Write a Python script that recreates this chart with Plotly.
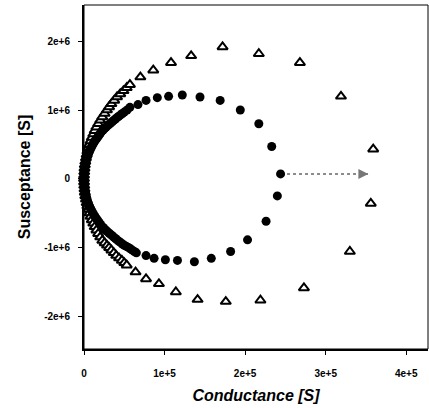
import plotly.graph_objects as go

# Circles (filled) - upper and lower branches
G_circ = [0, 150, 400, 750, 1200, 1700, 2200, 2800, 3500, 4200, 5000, 5900, 6800, 7800, 8800, 9900,
          11000, 12200, 13500, 14700, 16000, 17500, 19000, 20500, 22000, 23700, 25500, 27200,
          29000, 31000, 33000, 35000, 37000, 39000, 41000, 43200, 45500, 47700, 50000, 53500,
          57000, 67000, 77000, 91000, 105000, 122000, 144000, 169000, 194000, 217000, 233000, 244000]
B_circ = [0, 0.06e6, 0.10e6, 0.14e6, 0.17e6, 0.20e6, 0.23e6, 0.26e6, 0.29e6, 0.32e6, 0.35e6, 0.375e6,
          0.40e6, 0.425e6, 0.45e6, 0.475e6, 0.50e6, 0.525e6, 0.55e6, 0.57e6, 0.59e6, 0.615e6, 0.64e6,
          0.665e6, 0.69e6, 0.71e6, 0.73e6, 0.75e6, 0.77e6, 0.79e6, 0.81e6, 0.83e6, 0.85e6, 0.87e6,
          0.89e6, 0.91e6, 0.93e6, 0.95e6, 0.97e6, 1.00e6, 1.04e6, 1.08e6, 1.14e6, 1.18e6, 1.20e6,
          1.22e6, 1.19e6, 1.14e6, 1.00e6, 0.80e6, 0.47e6, 0.07e6]
G_circ_low = [150, 400, 750, 1200, 1700, 2200, 2800, 3500, 4200, 5000, 5900, 6800, 7800, 8800, 9900,
              11000, 12200, 13500, 14700, 16000, 17500, 19000, 20500, 22000, 23700, 25500, 27200,
              29000, 31000, 33000, 35000, 37000, 39000, 41000, 43200, 45500, 47700, 50000, 52500,
              55000, 57500, 60000, 62500, 65000, 77000, 87000, 101000, 116000, 137000, 158000,
              182000, 203000, 226000, 240000]
B_circ_low = [-0.06e6, -0.10e6, -0.14e6, -0.17e6, -0.20e6, -0.23e6, -0.26e6, -0.29e6, -0.32e6,
              -0.35e6, -0.375e6, -0.40e6, -0.425e6, -0.45e6, -0.475e6, -0.50e6, -0.525e6, -0.55e6,
              -0.57e6, -0.59e6, -0.615e6, -0.64e6, -0.665e6, -0.69e6, -0.71e6, -0.73e6, -0.75e6,
              -0.77e6, -0.79e6, -0.81e6, -0.83e6, -0.85e6, -0.87e6, -0.89e6, -0.91e6, -0.93e6,
              -0.95e6, -0.97e6, -0.985e6, -1.00e6, -1.02e6, -1.04e6, -1.06e6, -1.08e6, -1.12e6,
              -1.16e6, -1.18e6, -1.19e6, -1.21e6, -1.16e6, -1.06e6, -0.89e6, -0.62e6, -0.25e6]

# Triangles (open) - upper and lower branches
G_tri = [0, 100, 300, 600, 1000, 1600, 2400, 3300, 4200, 5400, 6700, 8200, 9700, 11500, 13300,
         15400, 17600, 20100, 22700, 25600, 28500, 31200, 34000, 37500, 41000, 45000, 49000,
         53000, 57000, 70000, 86000, 108000, 133000, 172000, 217000, 268000, 319000, 359000]
B_tri = [0, 0.05e6, 0.1e6, 0.15e6, 0.2e6, 0.25e6, 0.3e6, 0.35e6, 0.4e6, 0.45e6, 0.5e6, 0.55e6,
         0.6e6, 0.65e6, 0.7e6, 0.75e6, 0.8e6, 0.85e6, 0.9e6, 0.95e6, 1.0e6, 1.045e6, 1.09e6,
         1.14e6, 1.19e6, 1.235e6, 1.28e6, 1.325e6, 1.37e6, 1.48e6, 1.58e6, 1.69e6, 1.79e6,
         1.92e6, 1.82e6, 1.69e6, 1.20e6, 0.43e6]
G_tri_low = [100, 300, 600, 1000, 1600, 2400, 3300, 4200, 5400, 6700, 8200, 9700, 11500, 13300,
             15400, 17600, 20100, 22700, 25600, 28500, 31200, 34000, 37000, 40000, 43500, 47000,
             50000, 53000, 64000, 77000, 93000, 114000, 141000, 176000, 219000, 273000, 330000, 356000]
B_tri_low = [-0.05e6, -0.1e6, -0.15e6, -0.2e6, -0.25e6, -0.3e6, -0.35e6, -0.4e6, -0.45e6, -0.5e6,
             -0.55e6, -0.6e6, -0.65e6, -0.7e6, -0.75e6, -0.8e6, -0.85e6, -0.9e6, -0.935e6, -0.97e6,
             -1.005e6, -1.04e6, -1.08e6, -1.12e6, -1.155e6, -1.19e6, -1.225e6, -1.26e6, -1.36e6,
             -1.46e6, -1.53e6, -1.65e6, -1.76e6, -1.79e6, -1.77e6, -1.59e6, -1.06e6, -0.36e6]

# Dotted arrow
arrow_G = [252000, 353000]
arrow_B = [0.07e6, 0.07e6]

x_ticks = [0, 1e5, 2e5, 3e5, 4e5]
x_ticklabels = ["0", "1e+5", "2e+5", "3e+5", "4e+5"]
y_ticks = [-2e6, -1e6, 0, 1e6, 2e6]
y_ticklabels = ["-2e+6", "-1e+6", "0", "1e+6", "2e+6"]

fig = go.Figure()

tri_marker = dict(symbol="triangle-up", size=9, color="white", line=dict(color="black", width=2))
circ_marker = dict(symbol="circle", size=9, color="black", line=dict(width=0))

fig.add_trace(go.Scatter(x=G_tri, y=B_tri, mode="markers", marker=tri_marker, cliponaxis=False))
fig.add_trace(go.Scatter(x=G_tri_low, y=B_tri_low, mode="markers", marker=tri_marker, cliponaxis=False))
fig.add_trace(go.Scatter(x=G_circ, y=B_circ, mode="markers", marker=circ_marker, cliponaxis=False))
fig.add_trace(go.Scatter(x=G_circ_low, y=B_circ_low, mode="markers", marker=circ_marker, cliponaxis=False))
fig.add_trace(go.Scatter(x=arrow_G, y=arrow_B, mode="lines",
                         line=dict(color="#666666", width=1.5, dash="dot")))

fig.add_annotation(x=arrow_G[1], y=arrow_B[1], ax=arrow_G[1] - 8000, ay=arrow_B[1],
                   xref="x", yref="y", axref="x", ayref="y", text="", showarrow=True,
                   arrowhead=2, arrowsize=1.0, arrowwidth=2, arrowcolor="#777777")

fig.add_shape(type="rect", xref="paper", yref="paper", x0=0, y0=0, x1=1, y1=1,
              line=dict(color="black", width=1))

tick_font = dict(family="Liberation Sans", size=10, color="black", weight="bold")

fig.update_layout(
    width=429, height=408,
    margin=dict(l=84, r=1, t=5, b=59),
    plot_bgcolor="white", paper_bgcolor="white",
    showlegend=False,
    xaxis=dict(range=[0, 4.27e5], tickvals=x_ticks, ticktext=x_ticklabels,
               showgrid=False, zeroline=False, showline=True, linecolor="black", linewidth=2,
               ticks="outside", ticklen=4, tickwidth=1, tickcolor="black", tickfont=tick_font,
               ticklabelstandoff=10,
               title=dict(text="<i>Conductance [S]</i>", standoff=12,
                          font=dict(family="Liberation Sans", size=16, color="black", weight="bold"))),
    yaxis=dict(range=[-2.48e6, 2.53e6], tickvals=y_ticks, ticktext=y_ticklabels,
               showgrid=False, zeroline=False, showline=True, linecolor="black", linewidth=2,
               ticks="outside", ticklen=4, tickwidth=1, tickcolor="black", tickfont=tick_font,
               ticklabelstandoff=6,
               title=dict(text="Susceptance [S]", standoff=10,
                          font=dict(family="Liberation Sans", size=16, color="black", weight="bold"))),
)

fig.write_html("out.html")
